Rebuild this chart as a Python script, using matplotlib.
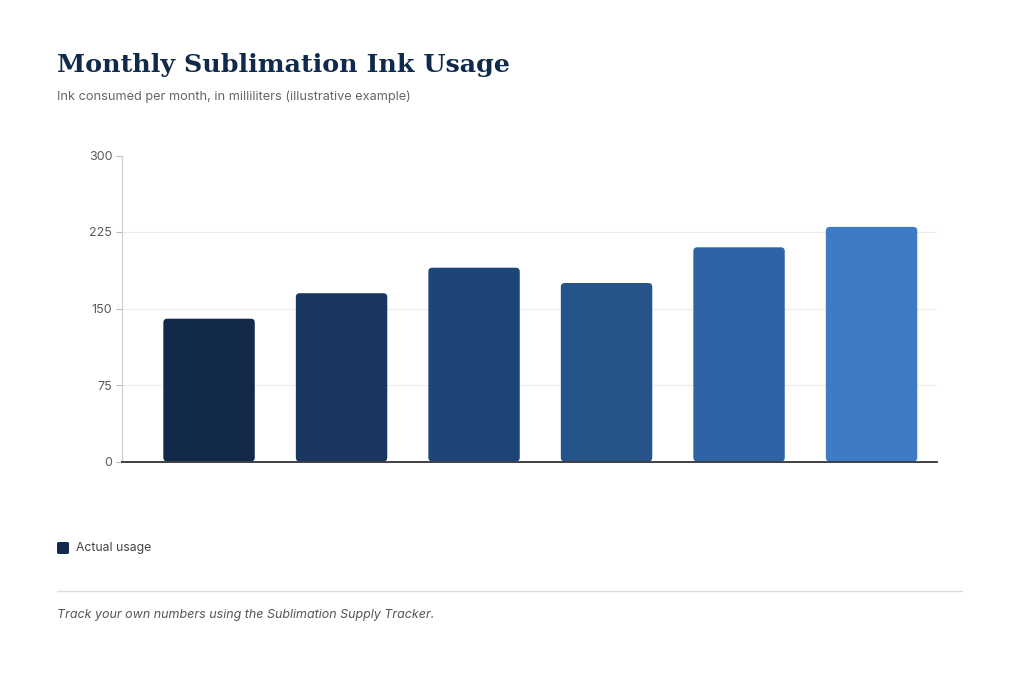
import matplotlib
matplotlib.use("Agg")
import matplotlib.pyplot as plt
from matplotlib.patches import FancyBboxPatch
from matplotlib.lines import Line2D

months = ["Jan", "Feb", "Mar", "Apr", "May", "Jun"]
usage = [140, 165, 190, 175, 210, 230]
colors = ["#12294a", "#183660", "#1d4577", "#245489", "#3063a5", "#3f7bc4"]
yticks = [0, 75, 150, 225, 300]
ytick_labels = ["0", "75", "150", "225", "300"]

title = "Monthly Sublimation Ink Usage"
subtitle = "Ink consumed per month, in milliliters (illustrative example)"
legend_label = "Actual usage"
footer = "Track your own numbers using the Sublimation Supply Tracker."

plt.rcParams['font.family'] = ['Inter', 'DejaVu Sans']

fig = plt.figure(figsize=(10.2, 6.75), dpi=100)
fig.patch.set_facecolor("white")
ax = fig.add_axes([122/1020, 1-461.5/675, (937-122)/1020, (461.5-155.5)/675])

x = list(range(len(months)))
bars = ax.bar(x, usage, width=0.69, color=colors)
ax.set_xlim(-0.657, 5.494)
ax.set_ylim(0, 300)

# replace bars with rounded versions
for b, c in zip(bars, colors):
    b.set_visible(False)
    rx, ry = b.get_x(), b.get_y()
    w, h = b.get_width(), b.get_height()
    p = FancyBboxPatch((rx, ry), w, h,
                       boxstyle="round,pad=0,rounding_size=0.03",
                       mutation_aspect=130, facecolor=c, edgecolor="none",
                       zorder=3)
    ax.add_patch(p)

ax.set_yticks(yticks)
ax.set_yticklabels(ytick_labels)
ax.set_xticks([])
ax.tick_params(axis='y', length=4, width=0.8, color="#bbbbbb",
               labelsize=9, labelcolor="#5a5a5a", pad=3)
for t in yticks[1:-1]:
    ax.axhline(t, color="#ececec", lw=0.8, zorder=1)
for s in ["top", "right"]:
    ax.spines[s].set_visible(False)
ax.spines["left"].set_color("#cccccc")
ax.spines["left"].set_linewidth(0.8)
ax.spines["bottom"].set_color("#333333")
ax.spines["bottom"].set_linewidth(1.3)
ax.spines["bottom"].set_zorder(4)

fig.text(57/1020, 1-65/675, title, fontsize=18.3, fontweight="bold",
         family=["DejaVu Serif"], color="#0f2a4a", va="center", ha="left")
fig.text(57/1020, 1-97/675, subtitle, fontsize=9.2, color="#666666",
         va="center", ha="left")

# legend
fig.patches.append(FancyBboxPatch((57/1020, 1-554/675), 12/1020, 12/675,
                                  boxstyle="round,pad=0,rounding_size=0.002",
                                  transform=fig.transFigure, facecolor=colors[0],
                                  edgecolor="none"))
fig.text(76/1020, 1-548.5/675, legend_label, fontsize=8.8, color="#444444",
         va="center", ha="left")

fig.add_artist(Line2D([57/1020, 962/1020], [1-591/675, 1-591/675],
                      transform=fig.transFigure, color="#dddddd", lw=1))
fig.text(57/1020, 1-615/675, footer, fontsize=9, style="italic",
         color="#555555", va="center", ha="left")

fig.savefig("out.png", dpi=100, facecolor="white")
